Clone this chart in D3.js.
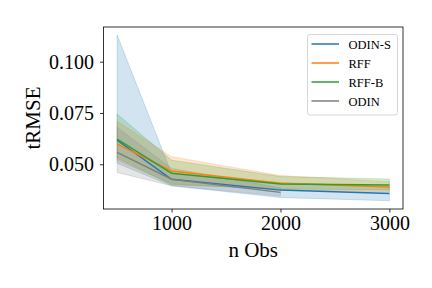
<!DOCTYPE html>
<html>
<head>
<meta charset="utf-8">
<script src="https://cdn.jsdelivr.net/npm/d3@7"></script>
<style>
  body { margin: 0; background: #fff; }
  text { font-family: "Liberation Serif", "DejaVu Serif", serif; fill: #000; }
</style>
</head>
<body>
<div id="chart"></div>
<script>
// data
const nObs = [500, 1000, 2000, 3000];
const seriesNames = ['ODIN-S', 'RFF', 'RFF-B', 'ODIN'];
const seriesColors = ['#1f77b4', '#ff7f0e', '#2ca02c', '#7f7f7f'];

const odinSMean = [0.0617, 0.0427, 0.0374, 0.0357];
const odinSLow = [0.0505, 0.0395, 0.0338, 0.0322];
const odinSHigh = [0.1130, 0.0455, 0.0410, 0.0392];

const rffMean = [0.0598, 0.0467, 0.0407, 0.0389];
const rffLow = [0.0520, 0.0405, 0.0375, 0.0365];
const rffHigh = [0.0710, 0.0537, 0.0445, 0.0415];

const rffBMean = [0.0623, 0.0456, 0.0404, 0.0399];
const rffBLow = [0.0530, 0.0400, 0.0380, 0.0375];
const rffBHigh = [0.0745, 0.0520, 0.0440, 0.0428];

const odinObs = [500, 1000, 2000];
const odinMean = [0.0558, 0.0427, 0.0363];
const odinLow = [0.0460, 0.0395, 0.0345];
const odinHigh = [0.0680, 0.0480, 0.0385];

const xTicks = [1000, 2000, 3000];
const yTicks = [0.050, 0.075, 0.100];

function makeSeries(xs, mean, low, high) {
  return xs.map((x, i) => ({x: x, m: mean[i], lo: low[i], hi: high[i]}));
}

function main() {
  const svgWidth = 432;
  const svgHeight = 288;
  const margin = {top: 27, bottom: 79, left: 103.5, right: 29};
  const chartWidth = svgWidth - margin.left - margin.right;
  const chartHeight = svgHeight - margin.top - margin.bottom;

  const svg = d3.select('#chart').append('svg')
    .attr('width', svgWidth)
    .attr('height', svgHeight);
  const chartGroup = svg.append('g').attr('transform', `translate(${margin.left}, ${margin.top})`);

  const xLinearScale = d3.scaleLinear().domain([375, 3125]).range([0, chartWidth]);
  const yLinearScale = d3.scaleLinear().domain([0.0282, 0.1169]).range([chartHeight, 0]);

  const allSeries = [
    makeSeries(nObs, odinSMean, odinSLow, odinSHigh),
    makeSeries(nObs, rffMean, rffLow, rffHigh),
    makeSeries(nObs, rffBMean, rffBLow, rffBHigh),
    makeSeries(odinObs, odinMean, odinLow, odinHigh)
  ];

  const area = d3.area()
    .x(d => xLinearScale(d.x))
    .y0(d => yLinearScale(d.lo))
    .y1(d => yLinearScale(d.hi));
  const line = d3.line()
    .x(d => xLinearScale(d.x))
    .y(d => yLinearScale(d.m));

  allSeries.forEach((s, i) => {
    chartGroup.append('path')
      .attr('d', area(s))
      .attr('fill', seriesColors[i])
      .attr('fill-opacity', 0.2)
      .attr('stroke', seriesColors[i])
      .attr('stroke-opacity', 0.2)
      .attr('stroke-width', 1);
  });
  allSeries.forEach((s, i) => {
    chartGroup.append('path')
      .attr('d', line(s))
      .attr('fill', 'none')
      .attr('stroke', seriesColors[i])
      .attr('stroke-width', 1.5);
  });

  // axes
  const bottomAxis = d3.axisBottom(xLinearScale).tickValues(xTicks).tickSize(3.5).tickPadding(3.5).tickFormat(d3.format('d'));
  const leftAxis = d3.axisLeft(yLinearScale).tickValues(yTicks).tickSize(3.5).tickPadding(6).tickFormat(d3.format('.3f'));

  const xAxis = chartGroup.append('g').attr('transform', `translate(0, ${chartHeight})`).call(bottomAxis);
  const yAxis = chartGroup.append('g').call(leftAxis);
  [xAxis, yAxis].forEach(ax => {
    ax.select('.domain').remove();
    ax.selectAll('line').attr('stroke', '#000').attr('stroke-width', 0.8);
    ax.selectAll('text').attr('font-size', '20px').attr('font-family', '"Liberation Serif", serif').attr('fill', '#000');
  });

  chartGroup.append('rect')
    .attr('width', chartWidth)
    .attr('height', chartHeight)
    .attr('fill', 'none')
    .attr('stroke', '#000')
    .attr('stroke-width', 0.8);

  // axis labels
  svg.append('text')
    .attr('x', margin.left + chartWidth / 2)
    .attr('y', 256.5)
    .attr('text-anchor', 'middle')
    .attr('font-size', '21px')
    .text('n Obs');
  svg.append('text')
    .attr('transform', `translate(40, ${margin.top + chartHeight / 2}) rotate(-90)`)
    .attr('text-anchor', 'middle')
    .attr('font-size', '21px')
    .text('tRMSE');

  // legend
  const legend = svg.append('g').attr('transform', 'translate(307.5, 34.5)');
  legend.append('rect')
    .attr('width', 90)
    .attr('height', 80.5)
    .attr('rx', 2.5)
    .attr('fill', '#fff')
    .attr('fill-opacity', 0.8)
    .attr('stroke', '#cccccc')
    .attr('stroke-width', 0.8);
  seriesNames.forEach((name, i) => {
    const y = 9.5 + i * 19;
    legend.append('line')
      .attr('x1', 4).attr('x2', 31.5)
      .attr('y1', y).attr('y2', y)
      .attr('stroke', seriesColors[i])
      .attr('stroke-width', 1.5);
    legend.append('text')
      .attr('x', 41)
      .attr('y', y + 4.5)
      .attr('font-size', '12.5px')
      .text(name);
  });
}

main();
</script>
</body>
</html>
